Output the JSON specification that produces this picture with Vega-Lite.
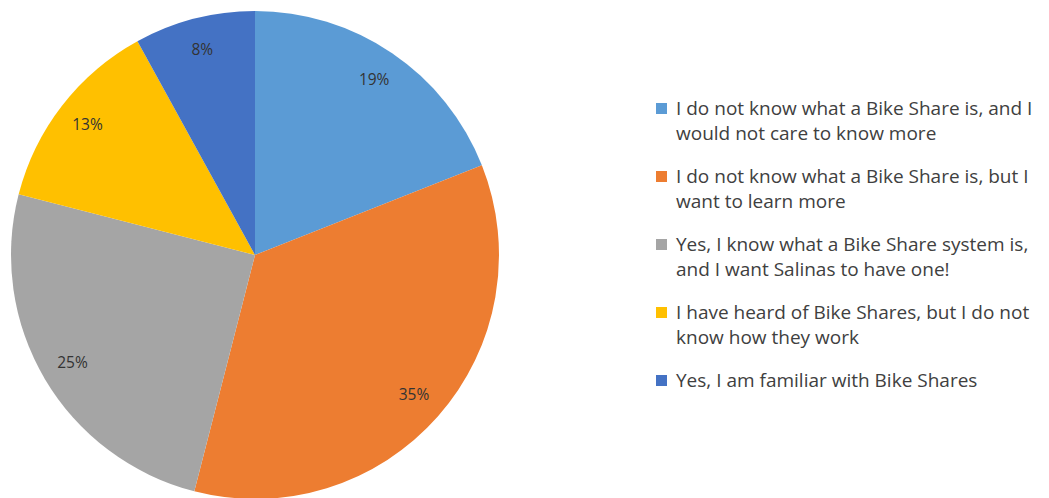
{
  "$schema": "https://vega.github.io/schema/vega-lite/v6.json",
  "width": 510,
  "height": 492,
  "autosize": "none",
  "padding": {"left": 0, "top": 9, "right": 539, "bottom": 0},
  "background": "white",
  "data": {
    "values": [
      {"idx": 1, "answer": "I do not know what a Bike Share is, and I|would not care to know more", "pct": 19, "label": "19%"},
      {"idx": 2, "answer": "I do not know what a Bike Share is, but I|want to learn more", "pct": 35, "label": "35%"},
      {"idx": 3, "answer": "Yes, I know what a Bike Share system is,|and I want Salinas to have one!", "pct": 25, "label": "25%"},
      {"idx": 4, "answer": "I have heard of Bike Shares, but I do not|know how they work", "pct": 13, "label": "13%"},
      {"idx": 5, "answer": "Yes, I am familiar with Bike Shares", "pct": 8, "label": "8%"}
    ]
  },
  "encoding": {
    "theta": {"field": "pct", "type": "quantitative", "stack": true},
    "order": {"field": "idx", "type": "quantitative"}
  },
  "layer": [
    {
      "mark": {"type": "arc", "outerRadius": 244},
      "encoding": {
        "color": {
          "field": "answer",
          "type": "nominal",
          "scale": {
            "domain": [
              "I do not know what a Bike Share is, and I|would not care to know more",
              "I do not know what a Bike Share is, but I|want to learn more",
              "Yes, I know what a Bike Share system is,|and I want Salinas to have one!",
              "I have heard of Bike Shares, but I do not|know how they work",
              "Yes, I am familiar with Bike Shares"
            ],
            "range": ["#5B9BD5", "#ED7D31", "#A5A5A5", "#FFC000", "#4472C4"]
          },
          "legend": {
            "orient": "none",
            "legendX": 652,
            "legendY": 90,
            "title": null,
            "symbolType": "square",
            "symbolSize": 121,
            "symbolStrokeWidth": 0,
            "labelFont": "Open Sans",
            "labelFontSize": 19,
            "labelColor": "#404040",
            "labelLimit": 0,
            "labelOffset": 5,
            "rowPadding": 23,
            "labelExpr": "split(datum.label, '|')",
            "labelBaseline": "middle",
            "encode": {
              "labels": {"update": {"lineHeight": {"value": 25}}}
            }
          }
        }
      }
    },
    {
      "mark": {"type": "text", "radius": 212, "font": "Open Sans", "fontSize": 15.5, "fill": "#333333"},
      "encoding": {
        "text": {"field": "label", "type": "nominal"}
      }
    }
  ]
}
